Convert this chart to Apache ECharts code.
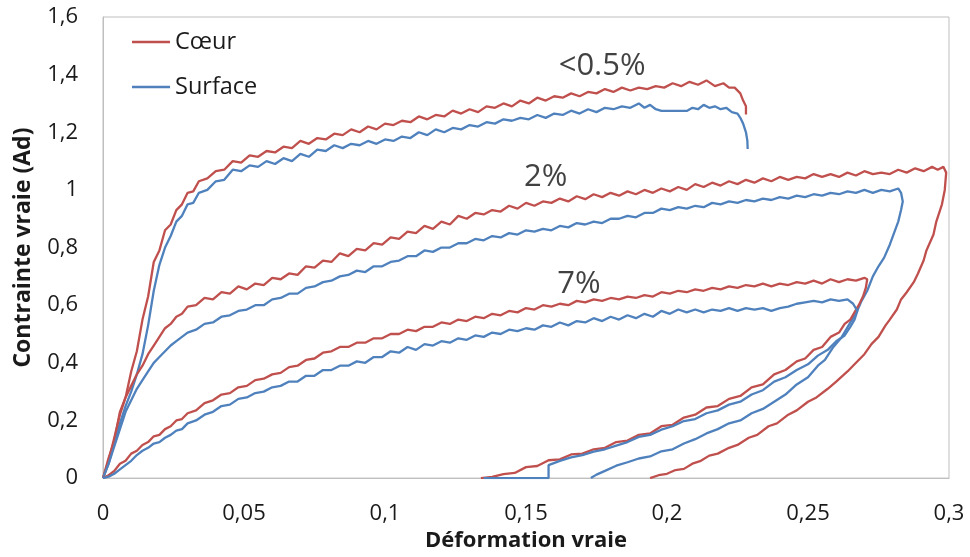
<!DOCTYPE html>
<html>
<head>
<meta charset="utf-8">
<script src="https://cdn.jsdelivr.net/npm/echarts@6/dist/echarts.min.js"></script>
<style>
html,body{margin:0;padding:0;background:#fff;}
#chart{width:970px;height:557px;}
</style>
</head>
<body>
<div id="chart"></div>
<script>
// ---- Data ----
const xTickLabels = ['0', '0,05', '0,1', '0,15', '0,2', '0,25', '0,3'];
const yTickLabels = ['0', '0,2', '0,4', '0,6', '0,8', '1', '1,2', '1,4', '1,6'];
const seriesNames = ['Cœur', 'Surface'];

// Coeur (red), <0.5% loop
const coeur05 = [[0,0],[0.002,0.07],[0.004,0.13],[0.006,0.23],[0.008,0.28],[0.010,0.37],[0.012,0.44],[0.014,0.55],[0.016,0.63],[0.018,0.75],[0.020,0.79],[0.022,0.86],[0.024,0.88],[0.026,0.93],[0.028,0.95],[0.030,0.99],[0.032,0.995],[0.034,1.03],[0.037,1.04],[0.040,1.065],[0.043,1.07],[0.046,1.10],[0.049,1.095],[0.052,1.12],[0.055,1.115],[0.058,1.135],[0.061,1.13],[0.064,1.15],[0.067,1.145],[0.070,1.17],[0.073,1.16],[0.076,1.18],[0.079,1.175],[0.082,1.195],[0.085,1.19],[0.088,1.21],[0.091,1.20],[0.094,1.22],[0.097,1.21],[0.100,1.23],[0.103,1.225],[0.106,1.24],[0.109,1.235],[0.112,1.255],[0.115,1.245],[0.118,1.26],[0.121,1.255],[0.124,1.275],[0.127,1.265],[0.130,1.28],[0.133,1.27],[0.136,1.29],[0.139,1.285],[0.142,1.30],[0.145,1.29],[0.148,1.31],[0.151,1.30],[0.154,1.32],[0.157,1.31],[0.160,1.325],[0.163,1.32],[0.166,1.335],[0.169,1.325],[0.172,1.34],[0.175,1.335],[0.178,1.35],[0.181,1.34],[0.184,1.355],[0.187,1.345],[0.190,1.355],[0.193,1.35],[0.196,1.36],[0.199,1.355],[0.202,1.37],[0.205,1.36],[0.208,1.375],[0.211,1.365],[0.214,1.38],[0.217,1.36],[0.220,1.37],[0.222,1.355],[0.224,1.355],[0.226,1.335],[0.227,1.31],[0.228,1.29],[0.228,1.262]];

// Surface (blue), <0.5% loop
const surface05 = [[0,0],[0.002,0.05],[0.004,0.12],[0.006,0.19],[0.008,0.25],[0.010,0.30],[0.012,0.36],[0.014,0.43],[0.016,0.53],[0.018,0.65],[0.020,0.74],[0.022,0.80],[0.024,0.84],[0.026,0.89],[0.028,0.91],[0.030,0.95],[0.032,0.955],[0.034,0.99],[0.037,1.00],[0.040,1.03],[0.043,1.035],[0.046,1.07],[0.049,1.065],[0.052,1.085],[0.055,1.08],[0.058,1.10],[0.061,1.09],[0.064,1.11],[0.067,1.10],[0.070,1.125],[0.073,1.115],[0.076,1.14],[0.079,1.135],[0.082,1.155],[0.085,1.145],[0.088,1.16],[0.091,1.155],[0.094,1.17],[0.097,1.16],[0.100,1.175],[0.103,1.17],[0.106,1.185],[0.109,1.18],[0.112,1.20],[0.115,1.19],[0.118,1.21],[0.121,1.20],[0.124,1.215],[0.127,1.21],[0.130,1.225],[0.133,1.22],[0.136,1.235],[0.139,1.23],[0.142,1.245],[0.145,1.24],[0.148,1.25],[0.151,1.245],[0.154,1.26],[0.157,1.25],[0.160,1.265],[0.163,1.26],[0.166,1.275],[0.169,1.265],[0.172,1.28],[0.175,1.27],[0.178,1.285],[0.181,1.28],[0.184,1.29],[0.187,1.285],[0.190,1.30],[0.192,1.285],[0.194,1.295],[0.196,1.28],[0.198,1.274],[0.207,1.274],[0.209,1.285],[0.211,1.28],[0.213,1.295],[0.215,1.285],[0.217,1.29],[0.219,1.28],[0.221,1.285],[0.223,1.27],[0.225,1.265],[0.226,1.25],[0.227,1.23],[0.228,1.20],[0.2285,1.17],[0.2286,1.142]];

// Coeur (red), 2% loop
const coeur2 = [[0,0],[0.002,0.06],[0.004,0.14],[0.006,0.22],[0.008,0.28],[0.010,0.32],[0.012,0.36],[0.014,0.39],[0.016,0.43],[0.018,0.46],[0.020,0.49],[0.022,0.52],[0.024,0.535],[0.026,0.56],[0.028,0.57],[0.030,0.595],[0.033,0.60],[0.036,0.625],[0.039,0.62],[0.042,0.645],[0.045,0.64],[0.048,0.665],[0.051,0.655],[0.054,0.675],[0.057,0.67],[0.060,0.695],[0.063,0.69],[0.066,0.71],[0.069,0.705],[0.072,0.735],[0.075,0.73],[0.078,0.755],[0.081,0.75],[0.084,0.78],[0.087,0.77],[0.090,0.795],[0.093,0.79],[0.096,0.815],[0.099,0.81],[0.102,0.835],[0.105,0.83],[0.108,0.855],[0.111,0.85],[0.114,0.875],[0.117,0.865],[0.120,0.89],[0.123,0.88],[0.126,0.91],[0.129,0.90],[0.132,0.92],[0.135,0.915],[0.138,0.93],[0.141,0.925],[0.144,0.945],[0.147,0.935],[0.150,0.955],[0.153,0.945],[0.156,0.96],[0.159,0.955],[0.162,0.97],[0.165,0.96],[0.168,0.978],[0.171,0.968],[0.174,0.985],[0.177,0.975],[0.180,0.99],[0.183,0.98],[0.186,0.995],[0.189,0.985],[0.192,1.00],[0.195,0.99],[0.198,1.005],[0.201,0.995],[0.204,1.01],[0.207,1.00],[0.210,1.02],[0.213,1.01],[0.216,1.025],[0.219,1.015],[0.222,1.03],[0.225,1.02],[0.228,1.035],[0.231,1.025],[0.234,1.04],[0.237,1.03],[0.240,1.045],[0.243,1.035],[0.246,1.045],[0.249,1.04],[0.252,1.055],[0.255,1.045],[0.258,1.055],[0.261,1.045],[0.264,1.06],[0.267,1.05],[0.270,1.065],[0.273,1.055],[0.276,1.06],[0.279,1.055],[0.282,1.07],[0.285,1.06],[0.288,1.075],[0.291,1.065],[0.294,1.08],[0.296,1.07],[0.298,1.08],[0.299,1.06],[0.2985,1.00],[0.2975,0.95],[0.2955,0.89],[0.2945,0.845],[0.292,0.79],[0.291,0.755],[0.289,0.71],[0.2875,0.68],[0.285,0.645],[0.283,0.62],[0.2815,0.585],[0.279,0.55],[0.2775,0.53],[0.275,0.49],[0.2725,0.465],[0.270,0.43],[0.2665,0.395],[0.264,0.37],[0.260,0.335],[0.257,0.31],[0.253,0.28],[0.250,0.265],[0.246,0.235],[0.243,0.22],[0.239,0.19],[0.236,0.18],[0.232,0.15],[0.229,0.14],[0.225,0.115],[0.222,0.105],[0.218,0.085],[0.215,0.078],[0.212,0.06],[0.209,0.05],[0.206,0.032],[0.203,0.028],[0.200,0.015],[0.197,0.01],[0.194,0.0]];

// Surface (blue), 2% loop
const surface2 = [[0,0],[0.002,0.05],[0.004,0.11],[0.006,0.17],[0.008,0.23],[0.010,0.27],[0.012,0.31],[0.014,0.34],[0.016,0.37],[0.018,0.40],[0.020,0.42],[0.022,0.44],[0.024,0.46],[0.026,0.475],[0.028,0.49],[0.030,0.505],[0.033,0.515],[0.036,0.535],[0.039,0.54],[0.042,0.56],[0.045,0.565],[0.048,0.58],[0.051,0.585],[0.054,0.60],[0.057,0.60],[0.060,0.62],[0.063,0.625],[0.066,0.64],[0.069,0.64],[0.072,0.66],[0.075,0.665],[0.078,0.68],[0.081,0.685],[0.084,0.70],[0.087,0.705],[0.090,0.72],[0.093,0.715],[0.096,0.735],[0.099,0.735],[0.102,0.75],[0.105,0.755],[0.108,0.77],[0.111,0.77],[0.114,0.79],[0.117,0.785],[0.120,0.80],[0.123,0.80],[0.126,0.815],[0.129,0.815],[0.132,0.83],[0.135,0.825],[0.138,0.84],[0.141,0.835],[0.144,0.85],[0.147,0.845],[0.150,0.86],[0.153,0.855],[0.156,0.865],[0.159,0.86],[0.162,0.875],[0.165,0.87],[0.168,0.885],[0.171,0.88],[0.174,0.89],[0.177,0.885],[0.180,0.90],[0.183,0.90],[0.186,0.91],[0.189,0.905],[0.192,0.92],[0.195,0.92],[0.198,0.935],[0.201,0.93],[0.204,0.94],[0.207,0.935],[0.210,0.945],[0.213,0.94],[0.216,0.955],[0.219,0.95],[0.222,0.96],[0.225,0.955],[0.228,0.965],[0.231,0.96],[0.234,0.97],[0.237,0.965],[0.240,0.975],[0.243,0.97],[0.246,0.98],[0.249,0.975],[0.252,0.985],[0.255,0.98],[0.258,0.99],[0.261,0.985],[0.264,0.995],[0.267,0.99],[0.270,1.00],[0.273,0.99],[0.276,1.00],[0.279,0.995],[0.282,1.005],[0.283,0.99],[0.2836,0.96],[0.283,0.93],[0.282,0.89],[0.2805,0.85],[0.279,0.81],[0.277,0.765],[0.275,0.735],[0.273,0.70],[0.271,0.65],[0.269,0.615],[0.267,0.57],[0.265,0.54],[0.262,0.49],[0.259,0.455],[0.256,0.41],[0.2535,0.39],[0.250,0.35],[0.246,0.325],[0.242,0.29],[0.238,0.265],[0.234,0.24],[0.230,0.225],[0.226,0.20],[0.222,0.19],[0.218,0.17],[0.214,0.155],[0.210,0.135],[0.206,0.12],[0.202,0.10],[0.198,0.093],[0.194,0.075],[0.190,0.068],[0.186,0.055],[0.182,0.043],[0.178,0.025],[0.175,0.012],[0.173,0]];

// Coeur (red), 7% loop
const coeur7 = [[0,0],[0.002,0.01],[0.004,0.025],[0.006,0.05],[0.008,0.06],[0.010,0.085],[0.012,0.095],[0.014,0.115],[0.016,0.125],[0.018,0.145],[0.020,0.15],[0.022,0.17],[0.024,0.18],[0.026,0.20],[0.028,0.205],[0.030,0.225],[0.033,0.235],[0.036,0.26],[0.039,0.27],[0.042,0.29],[0.045,0.295],[0.048,0.315],[0.051,0.32],[0.054,0.34],[0.057,0.345],[0.060,0.36],[0.063,0.365],[0.066,0.385],[0.069,0.39],[0.072,0.41],[0.075,0.415],[0.078,0.435],[0.081,0.44],[0.084,0.455],[0.087,0.455],[0.090,0.47],[0.093,0.47],[0.096,0.485],[0.099,0.485],[0.102,0.50],[0.105,0.50],[0.108,0.515],[0.111,0.51],[0.114,0.525],[0.117,0.525],[0.120,0.54],[0.123,0.535],[0.126,0.55],[0.129,0.545],[0.132,0.56],[0.135,0.555],[0.138,0.57],[0.141,0.565],[0.144,0.58],[0.147,0.575],[0.150,0.59],[0.153,0.585],[0.156,0.60],[0.159,0.595],[0.162,0.605],[0.165,0.60],[0.168,0.615],[0.171,0.61],[0.174,0.62],[0.177,0.615],[0.180,0.625],[0.183,0.62],[0.186,0.63],[0.189,0.625],[0.192,0.635],[0.195,0.63],[0.198,0.645],[0.201,0.64],[0.204,0.65],[0.207,0.645],[0.210,0.655],[0.213,0.65],[0.216,0.66],[0.219,0.655],[0.222,0.665],[0.225,0.66],[0.228,0.67],[0.231,0.665],[0.234,0.675],[0.237,0.665],[0.240,0.675],[0.243,0.67],[0.246,0.68],[0.249,0.675],[0.252,0.685],[0.255,0.675],[0.258,0.69],[0.261,0.68],[0.264,0.69],[0.267,0.685],[0.270,0.695],[0.271,0.69],[0.2705,0.66],[0.2695,0.63],[0.268,0.60],[0.2665,0.575],[0.265,0.55],[0.263,0.535],[0.261,0.505],[0.258,0.49],[0.255,0.455],[0.252,0.445],[0.249,0.415],[0.246,0.405],[0.242,0.375],[0.238,0.36],[0.234,0.325],[0.230,0.315],[0.226,0.285],[0.222,0.275],[0.218,0.25],[0.214,0.245],[0.210,0.22],[0.206,0.21],[0.202,0.185],[0.198,0.18],[0.194,0.155],[0.190,0.15],[0.186,0.13],[0.182,0.125],[0.178,0.105],[0.174,0.10],[0.170,0.085],[0.166,0.082],[0.162,0.065],[0.158,0.062],[0.154,0.042],[0.150,0.038],[0.146,0.018],[0.142,0.014],[0.138,0.004],[0.134,0]];

// Surface (blue), 7% loop
const surface7 = [[0,0],[0.002,0.005],[0.004,0.015],[0.006,0.03],[0.008,0.045],[0.010,0.06],[0.012,0.08],[0.014,0.095],[0.016,0.105],[0.018,0.12],[0.020,0.125],[0.022,0.14],[0.024,0.15],[0.026,0.165],[0.028,0.17],[0.030,0.19],[0.033,0.20],[0.036,0.22],[0.039,0.23],[0.042,0.25],[0.045,0.255],[0.048,0.275],[0.051,0.28],[0.054,0.295],[0.057,0.30],[0.060,0.315],[0.063,0.32],[0.066,0.335],[0.069,0.335],[0.072,0.355],[0.075,0.355],[0.078,0.375],[0.081,0.375],[0.084,0.39],[0.087,0.39],[0.090,0.405],[0.093,0.40],[0.096,0.42],[0.099,0.42],[0.102,0.44],[0.105,0.435],[0.108,0.455],[0.111,0.445],[0.114,0.465],[0.117,0.46],[0.120,0.475],[0.123,0.47],[0.126,0.485],[0.129,0.48],[0.132,0.495],[0.135,0.49],[0.138,0.505],[0.141,0.50],[0.144,0.515],[0.147,0.51],[0.150,0.52],[0.153,0.515],[0.156,0.53],[0.159,0.525],[0.162,0.54],[0.165,0.53],[0.168,0.545],[0.171,0.54],[0.174,0.555],[0.177,0.545],[0.180,0.56],[0.183,0.55],[0.186,0.565],[0.189,0.555],[0.192,0.57],[0.195,0.56],[0.198,0.58],[0.201,0.57],[0.204,0.585],[0.207,0.575],[0.210,0.585],[0.213,0.575],[0.216,0.585],[0.219,0.58],[0.222,0.59],[0.225,0.58],[0.228,0.59],[0.231,0.585],[0.234,0.59],[0.237,0.58],[0.240,0.59],[0.243,0.595],[0.246,0.605],[0.249,0.61],[0.252,0.615],[0.255,0.61],[0.258,0.62],[0.261,0.615],[0.264,0.62],[0.266,0.605],[0.2675,0.58],[0.2665,0.55],[0.265,0.525],[0.263,0.495],[0.260,0.475],[0.257,0.445],[0.2535,0.425],[0.250,0.395],[0.246,0.375],[0.242,0.35],[0.238,0.335],[0.234,0.305],[0.230,0.29],[0.226,0.265],[0.222,0.255],[0.218,0.235],[0.214,0.225],[0.210,0.205],[0.206,0.198],[0.202,0.18],[0.198,0.168],[0.194,0.15],[0.190,0.143],[0.186,0.125],[0.182,0.113],[0.178,0.10],[0.174,0.092],[0.170,0.08],[0.166,0.072],[0.162,0.06],[0.158,0.045],[0.158,0],[0.135,0]];

// Strain-level annotations: [x, y, text]
const annotations = [[0.177, 1.431, '<0.5%'], [0.157, 1.044, '2%'], [0.1688, 0.673, '7%']];

const RED = '#C0504D';
const BLUE = '#4F81BD';
const FONT = '"Open Sans", "Noto Sans", sans-serif';

const chart = echarts.init(document.getElementById('chart'), null, {renderer: 'canvas'});

function lineSeries(name, data, color) {
  return {
    name: name, type: 'line', data: data, showSymbol: false, symbol: 'none',
    lineStyle: {color: color, width: 2.3}, itemStyle: {color: color},
    animation: false, silent: true, z: 3
  };
}

const option = {
  backgroundColor: '#fff',
  animation: false,
  grid: {left: 103, right: 21, top: 17, bottom: 75, show: true, borderColor: '#BFBFBF', borderWidth: 1, containLabel: false},
  legend: {
    data: [
      {name: seriesNames[0], icon: 'rect'},
      {name: seriesNames[1], icon: 'rect'}
    ],
    orient: 'vertical', left: 132, top: 30, padding: 0, itemWidth: 38, itemHeight: 2.5, itemGap: 21,
    textStyle: {fontFamily: FONT, fontSize: 23.5, color: '#1a1a1a', lineHeight: 24}
  },
  xAxis: {
    type: 'value', min: 0, max: 0.3, interval: 0.05,
    axisLine: {show: true, lineStyle: {color: '#BFBFBF', width: 1}},
    axisTick: {show: false}, splitLine: {show: false},
    axisLabel: {margin: 25, fontFamily: FONT, fontSize: 22, color: '#1a1a1a',
      formatter: v => xTickLabels[Math.round(v / 0.05)]},
    name: 'Déformation vraie', nameLocation: 'middle', nameGap: 48,
    nameTextStyle: {fontFamily: FONT, fontSize: 22, fontWeight: 'bold', color: '#1a1a1a'}
  },
  yAxis: {
    type: 'value', min: 0, max: 1.6, interval: 0.2,
    axisLine: {show: true, lineStyle: {color: '#BFBFBF', width: 1}},
    axisTick: {show: false}, splitLine: {show: false},
    axisLabel: {margin: 25, fontFamily: FONT, fontSize: 22, color: '#1a1a1a',
      formatter: v => yTickLabels[Math.round(v / 0.2)]},
    name: 'Contrainte vraie (Ad)', nameLocation: 'middle', nameGap: 68,
    nameTextStyle: {fontFamily: FONT, fontSize: 23, fontWeight: 'bold', color: '#1a1a1a'}
  },
  series: [
    lineSeries(seriesNames[0], coeur05, RED),
    lineSeries(seriesNames[1], surface05, BLUE),
    lineSeries(seriesNames[0], coeur2, RED),
    lineSeries(seriesNames[1], surface2, BLUE),
    lineSeries(seriesNames[0], coeur7, RED),
    lineSeries(seriesNames[1], surface7, BLUE),
    {
      name: 'annotations', type: 'scatter', symbolSize: 0, silent: true, z: 5,
      data: annotations.map(a => ({value: [a[0], a[1]], name: a[2]})),
      label: {show: true, position: 'inside', formatter: p => p.name,
        fontFamily: FONT, fontSize: 31, color: '#111'}
    }
  ]
};
chart.setOption(option);
</script>
</body>
</html>
